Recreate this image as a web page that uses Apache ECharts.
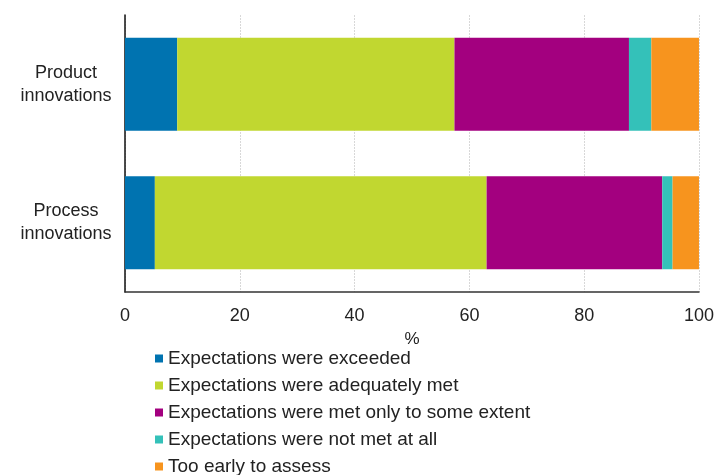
<!DOCTYPE html>
<html>
<head>
<meta charset="utf-8">
<script src="https://cdn.jsdelivr.net/npm/echarts@6/dist/echarts.min.js"></script>
<style>
  html, body { margin: 0; padding: 0; background: #ffffff; }
  #chart { width: 717px; height: 475px; }
</style>
</head>
<body>
<div id="chart"></div>
<script>
// Innovation types, top to bottom
const categories = ['Product\ninnovations', 'Process\ninnovations'];

// Share of enterprises (%) by how well expectations were met
const exceeded      = [9.1, 5.2];
const adequatelyMet = [48.3, 57.8];
const someExtent    = [30.4, 30.6];
const notMetAtAll   = [3.9, 1.8];
const tooEarly      = [8.3, 4.6];

const seriesNames = [
  'Expectations were exceeded',
  'Expectations were adequately met',
  'Expectations were met only to some extent',
  'Expectations were not met at all',
  'Too early to assess'
];
const seriesValues = [exceeded, adequatelyMet, someExtent, notMetAtAll, tooEarly];
const seriesColors = ['#0073b0', '#c1d730', '#a3007f', '#34c1b9', '#f7941e'];

const xTicks = [0, 20, 40, 60, 80, 100];

const font = 'Liberation Sans, Arial, sans-serif';
const chart = echarts.init(document.getElementById('chart'), null, { renderer: 'canvas' });

chart.setOption({
  animation: false,
  backgroundColor: '#ffffff',
  textStyle: { fontFamily: font },
  grid: { left: 125, right: 14, top: 15, bottom: 183, containLabel: false },
  legend: {
    orient: 'vertical',
    left: 155,
    top: 349,
    height: 200,
    padding: 0,
    itemWidth: 8,
    itemHeight: 8,
    itemGap: 8,
    icon: 'rect',
    textStyle: { fontFamily: font, fontSize: 19, color: '#222222' },
    data: seriesNames
  },
  xAxis: {
    type: 'value',
    min: xTicks[0],
    max: xTicks[xTicks.length - 1],
    interval: xTicks[1] - xTicks[0],
    name: '%',
    nameLocation: 'middle',
    nameGap: 39,
    nameTextStyle: { fontFamily: font, fontSize: 17, color: '#222222' },
    axisLine: { show: true, onZero: false, lineStyle: { color: '#333333', width: 1.5 } },
    axisTick: { show: false },
    axisLabel: { fontFamily: font, fontSize: 18, color: '#222222', margin: 15 },
    splitLine: { show: true, lineStyle: { color: '#d8d8d8', type: [2, 1], width: 1 } }
  },
  yAxis: {
    type: 'category',
    inverse: true,
    data: categories,
    axisLine: { show: true, lineStyle: { color: '#111111', width: 1.5 } },
    axisTick: { show: false },
    axisLabel: {
      fontFamily: font, fontSize: 18, color: '#222222',
      align: 'center', margin: 59, lineHeight: 23
    },
    splitLine: { show: false }
  },
  series: seriesNames.map((name, i) => ({
    name: name,
    type: 'bar',
    stack: 'total',
    barCategoryGap: '33%',
    itemStyle: { color: seriesColors[i] },
    emphasis: { disabled: true },
    data: seriesValues[i]
  }))
});
</script>
</body>
</html>
